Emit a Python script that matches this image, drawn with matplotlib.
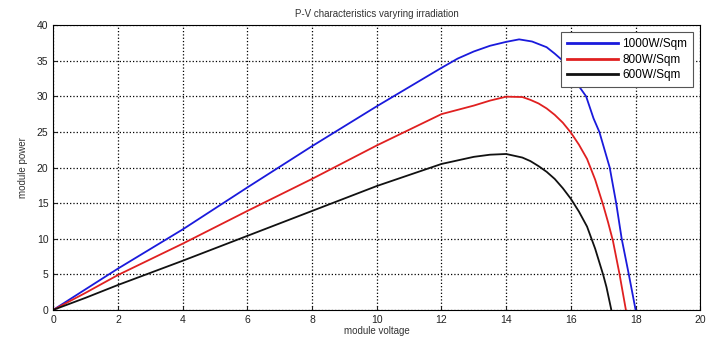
import matplotlib
matplotlib.use("Agg")
import matplotlib.pyplot as plt

plt.rcParams['font.family'] = ['Liberation Sans', 'DejaVu Sans']

# module voltage (V) and module power (W)
v_1000 = [0, 1, 2, 4, 6, 8, 10, 12, 12.5, 13, 13.5, 14, 14.4, 14.8, 15.25, 15.5, 15.75, 16, 16.22, 16.47, 16.7, 16.88, 17.2, 17.4, 17.57, 17.79, 18.0]
p_1000 = [0, 2.9, 5.8, 11.3, 17.2, 23.0, 28.6, 34.0, 35.3, 36.3, 37.1, 37.65, 38.0, 37.7, 36.9, 36.0, 35.0, 33.3, 31.6, 30.0, 26.9, 25.0, 20.0, 15.0, 10.0, 5.0, 0]

v_800 = [0, 1, 2, 4, 6, 8, 10, 12, 12.5, 13, 13.5, 14, 14.5, 14.75, 15, 15.25, 15.5, 15.75, 16, 16.25, 16.5, 16.75, 17, 17.15, 17.3, 17.5, 17.7]
p_800 = [0, 2.4, 4.9, 9.3, 13.9, 18.4, 23.1, 27.5, 28.1, 28.7, 29.4, 29.95, 29.9, 29.5, 29.0, 28.3, 27.4, 26.3, 24.9, 23.2, 21.2, 18.3, 14.7, 12.3, 9.7, 5.1, 0]

v_600 = [0, 1, 2, 4, 6, 8, 10, 12, 12.5, 13, 13.5, 14, 14.5, 14.75, 15, 15.25, 15.5, 15.75, 16, 16.25, 16.5, 16.75, 17, 17.1, 17.25]
p_600 = [0, 1.7, 3.5, 6.9, 10.4, 13.9, 17.4, 20.5, 21.0, 21.5, 21.8, 21.9, 21.4, 20.9, 20.2, 19.4, 18.4, 17.1, 15.6, 13.8, 11.7, 8.6, 4.9, 3.2, 0]

labels = ['1000W/Sqm', '800W/Sqm', '600W/Sqm']

fig = plt.figure(figsize=(7.19, 3.49), dpi=100)
ax = fig.add_axes([0.074, 0.112, 0.900, 0.816])

ax.plot(v_1000, p_1000, color='#1a1adc', linewidth=1.3, label=labels[0])
ax.plot(v_800, p_800, color='#e02020', linewidth=1.3, label=labels[1])
ax.plot(v_600, p_600, color='#111111', linewidth=1.3, label=labels[2])

ax.set_xlim(0, 20)
ax.set_ylim(0, 40)
ax.set_xticks(range(0, 21, 2))
ax.set_yticks(range(0, 41, 5))
ax.tick_params(direction='in', labelsize=7.5, length=3, colors='#222222')
ax.grid(True, linestyle=':', color='black', linewidth=0.9)

ax.set_title('P-V characteristics varyring irradiation', fontsize=7, color='#333333', pad=6)
ax.set_xlabel('module voltage', fontsize=7, color='#333333', labelpad=1)
ax.set_ylabel('module power', fontsize=7, color='#333333', labelpad=6)

leg = ax.legend(loc='upper right', fontsize=8.5, frameon=True, fancybox=False,
                edgecolor='#555555', framealpha=1, borderaxespad=0.6, borderpad=0.5,
                handlelength=4.3, handletextpad=0.4, labelspacing=0.3)
leg.get_frame().set_linewidth(0.8)
for line in leg.get_lines():
    line.set_linewidth(2.0)

fig.savefig('out.png', dpi=100)
